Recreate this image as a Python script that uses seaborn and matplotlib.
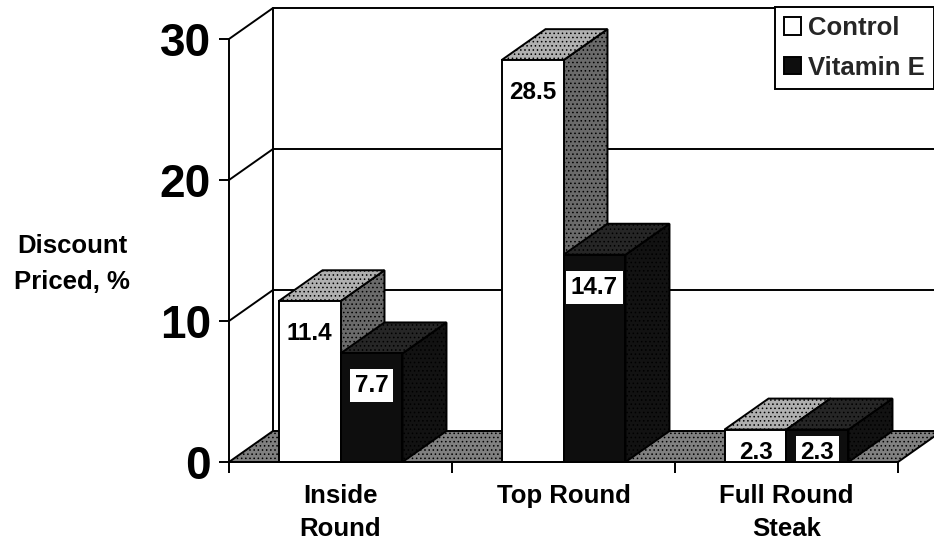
import numpy as np
import pandas as pd
import seaborn as sns
import matplotlib.pyplot as plt
from matplotlib.patches import Polygon, Rectangle

# ---- data -------------------------------------------------------------
cuts = ["Inside\nRound", "Top Round", "Full Round\nSteak"]
treatments = ["Control", "Vitamin E"]
control = [11.4, 28.5, 2.3]
vitamin_e = [7.7, 14.7, 2.3]
y_ticks = [0, 10, 20, 30]
y_label = "Discount\nPriced, %"

series = {"Control": control, "Vitamin E": vitamin_e}
df = pd.DataFrame({
    "cut": cuts * 2,
    "treatment": [t for t in treatments for _ in cuts],
    "value": control + vitamin_e,
})

# ---- style ------------------------------------------------------------
sns.set_theme(style="white")
plt.rcParams["font.family"] = ["Liberation Sans", "DejaVu Sans"]
plt.rcParams["font.weight"] = "bold"
plt.rcParams["hatch.linewidth"] = 0.6

LW = 1.4
W, H = 934, 544
fig = plt.figure(figsize=(W / 100, H / 100), dpi=100)
ax = fig.add_axes([229 / W, 1 - 462 / H, 669 / W, 423 / H])

sns.barplot(data=df, x="cut", y="value", hue="treatment",
            order=cuts, hue_order=treatments,
            palette={"Control": "white", "Vitamin E": "#0e0e0e"},
            saturation=1, width=0.556, edgecolor="black", linewidth=LW,
            errorbar=None, legend=False, ax=ax)

ax.set_xlim(-0.5, 2.5)
ax.set_ylim(0, 30)

# the bar rectangles drawn by seaborn, left to right
bars = sorted([p for p in ax.patches if isinstance(p, Rectangle)],
              key=lambda p: p.get_x())
bars = [p for p in bars if p.get_height() > 0]

# depth of the 3-D box expressed in data units
inv = ax.transData.inverted()
p0 = inv.transform((0, 0))
p1 = inv.transform((44, 31))
dx, dy = p1[0] - p0[0], p1[1] - p0[1]

x0, x1 = -0.5, 2.5

# floor
ax.add_patch(Polygon([(x0, 0), (x1, 0), (x1 + dx, dy), (x0 + dx, dy)],
                     closed=True, facecolor="#808080", edgecolor="black",
                     hatch="....", linewidth=LW, zorder=0.5, clip_on=False))

# back wall grid and left wall diagonals
for t in y_ticks[1:]:
    ax.plot([x0, x0 + dx, x1 + dx + 0.5], [t, t + dy, t + dy],
            color="black", lw=LW, zorder=0.6, clip_on=False,
            solid_capstyle="butt")
ax.plot([x0 + dx, x0 + dx], [dy, 30 + dy], color="black", lw=LW,
        zorder=0.6, clip_on=False)

# 3-D faces of the bars, painted left to right
for k, p in enumerate(bars):
    x, w, h = p.get_x(), p.get_width(), p.get_height()
    center = x + w / 2
    ci = int(round(center))
    name = treatments[0] if center < ci else treatments[1]
    value = series[name][ci]
    z = 2 + 0.1 * k
    if name == "Control":
        top_c, side_c = "#b0b0b0", "#6a6a6a"
        box = None
    else:
        top_c, side_c = "#262626", "#121212"
        box = dict(boxstyle="square,pad=0.2", facecolor="white",
                   edgecolor="none")
    ax.add_patch(Polygon([(x + w, 0), (x + w, h), (x + w + dx, h + dy),
                          (x + w + dx, dy)], closed=True, facecolor=side_c,
                         edgecolor="black", hatch="....", linewidth=LW,
                         zorder=z, clip_on=False))
    ax.add_patch(Polygon([(x, h), (x + w, h), (x + w + dx, h + dy),
                          (x + dx, h + dy)], closed=True, facecolor=top_c,
                         edgecolor="black", hatch="....", linewidth=LW,
                         zorder=z, clip_on=False))
    p.set_zorder(z + 0.05)
    ax.text(center, max(value - 2.3, 0.7), f"{value:.1f}",
            ha="center", va="center", fontsize=17.5, fontweight="bold",
            color="black", zorder=10, clip_on=True, bbox=box)

# axes, ticks and labels
for s in ["top", "right"]:
    ax.spines[s].set_visible(False)
for s in ["left", "bottom"]:
    ax.spines[s].set_visible(True)
    ax.spines[s].set_color("black")
    ax.spines[s].set_linewidth(LW)
    ax.spines[s].set_zorder(20)

ax.set_yticks(y_ticks)
ax.set_yticklabels([str(t) for t in y_ticks])
ax.tick_params(axis="y", left=True, direction="out", length=7, width=LW,
               pad=6, labelsize=33, colors="black")

ax.set_xticks([0, 1, 2])
ax.set_xticklabels(cuts, linespacing=1.45)
ax.set_xticks([-0.5, 0.5, 1.5, 2.5], minor=True)
ax.tick_params(axis="x", which="major", bottom=True, length=0, pad=16,
               labelsize=18.5, colors="black")
ax.tick_params(axis="x", which="minor", bottom=True, direction="out",
               length=8, width=LW, colors="black")
ax.set_xlabel("")
ax.set_ylabel("")

fig.text(72 / W, 1 - 264 / H, y_label, ha="center", va="center",
         fontsize=18.5, fontweight="bold", linespacing=1.65, color="black")

# legend box in the upper right corner
handles = [Rectangle((0, 0), 1, 1, facecolor="white", edgecolor="black", lw=LW),
           Rectangle((0, 0), 1, 1, facecolor="#0e0e0e", edgecolor="black", lw=LW)]
leg = ax.legend(handles, treatments, loc="upper left",
                bbox_to_anchor=(775 / W, 1 - 7 / H),
                bbox_transform=fig.transFigure, frameon=True, fancybox=False,
                edgecolor="black", framealpha=1, fontsize=18.5,
                handlelength=0.65, handleheight=0.65, handletextpad=0.3,
                borderpad=0.35, labelspacing=0.62, borderaxespad=0)
leg.get_frame().set_linewidth(LW)
leg.set_zorder(30)
for t in leg.get_texts():
    t.set_fontweight("bold")

fig.savefig("out.png", dpi=100)
